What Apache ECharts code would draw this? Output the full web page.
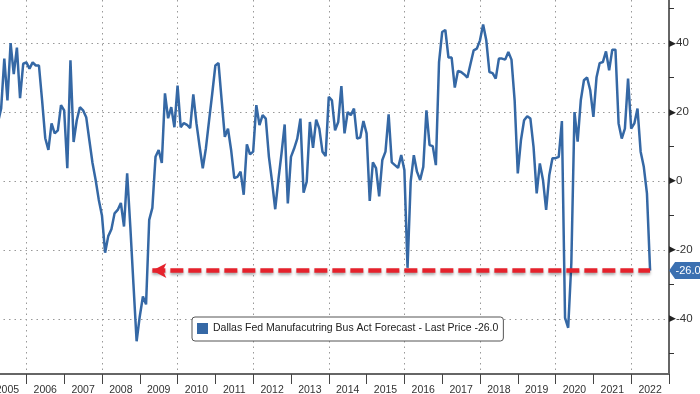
<!DOCTYPE html>
<html>
<head>
<meta charset="utf-8">
<script src="https://cdn.jsdelivr.net/npm/echarts@6/dist/echarts.min.js"></script>
<style>html,body{margin:0;padding:0;background:#fff}#c{width:700px;height:394px}</style>
</head>
<body>
<div id="c"></div>
<script>
// Monthly categories: Apr 2005 .. Jan 2023
const startYear = 2005, startMonth = 4, monthCount = 214;
const seriesName = 'Dallas Fed Manufacutring Bus Act Forecast - Last Price -26.0';
const lastPrice = -26.0;
const arrowStartIndex = 49;
const yMajorTicks = [-40, -20, 0, 20, 40];
const yMinorTicks = [-50, -30, -10, 10, 30, 50];

// Values (Apr 2005 .. Jul 2022)
const values = [
  17, 21, 35.5, 23.4, 40, 31, 38.7, 24, 34, 34.4, 32.6, 34.4,
  33.5, 33.5, 23.4, 12.4, 9, 16.7, 13.8, 14.7, 22, 20.5, 3.7, 35,
  11.3, 17.6, 21.4, 20.5, 18.5, 11.8, 5.2, 0.3, -5.5, -10, -20.8, -16,
  -14, -9.4, -8.4, -6.4, -13.2, 2.2, -13.2, -30, -46.5, -39.3, -33.5, -35.8,
  -11.3, -7.8, 7, 9, 5.2, 25.4, 18.2, 21.4, 15.6, 27.7, 15.6, 16.8,
  16.3, 15.3, 25.1, 16.7, 10, 3.7, 9.5, 17.5, 25.3, 33.5, 34.2, 23.4,
  12.8, 15.2, 9, 0.8, 1.2, 2.7, -4, 10.6, 7.7, 8.5, 22, 16.2,
  19.1, 18.1, 7, -0.2, -8.2, 0.3, 8, 16.4, -6.5, 7, 9.4, 12.3,
  18.1, -3.4, -0.2, 17.1, 9.6, 17.8, 15.2, 8.5, 7.2, 24.4, 23.4, 14.7,
  17.1, 27.5, 13.8, 20, 19.1, 21, 12.3, 12.6, 17.4, 13.8, -5.8, 5.4,
  3.7, -4.5, 6.1, 8.5, 19.3, 5.4, 4.6, 3.8, 7.5, 3.2, -25.2, -0.2,
  7.5, 2.7, 0.3, 4.1, 20.5, 10.4, 10.1, 4.6, 34.5, 43.2, 43.8, 35.8,
  35.8, 27.1, 31.9, 31.6, 30.9, 30, 34, 37.9, 38.4, 40.8, 45.4, 40.8,
  31.6, 31.3, 29.7, 35.5, 35.5, 35.2, 37.4, 35.2, 23.4, 2.2, 11.8, 17.6,
  18.8, 18.1, 9.9, -3.6, 5.1, 0.3, -8.4, 1.7, 6.6, 6.6, 7, 17.4,
  -39.7, -42.6, -23.8, 20, 11.4, 23.4, 29.2, 30, 26.3, 18.6, 30.1, 34.2,
  34.5, 37.6, 32.1, 38.1, 38.1, 16.7, 12.3, 15.2, 29.7, 15.2, 16.7, 21,
  8.5, 4.1, -3.6, -26
];

const months = [];
for (let k = 0; k < monthCount; k++) {
  const m0 = startMonth - 1 + k;
  const y = startYear + Math.floor(m0 / 12);
  const m = (m0 % 12) + 1;
  months.push(y + '-' + (m < 10 ? '0' + m : m));
}
const seriesData = months.map((_, i) => (i < values.length ? values[i] : null));
const lastIndex = values.length - 1;

const monthOf = (v) => parseInt(String(v).slice(5), 10);
const yearOf = (v) => parseInt(String(v).slice(0, 4), 10);
const isJan = (i) => monthOf(months[i]) === 1;
const isJul = (i) => monthOf(months[i]) === 7;
const isEvenJan = (i) => isJan(i) && yearOf(months[i]) % 2 === 0;

const blue = '#3568a5';
const font = 'Liberation Sans';
const gridDot = { color: '#999', type: [1.5, 4], width: 1 };

const chart = echarts.init(document.getElementById('c'), null, { renderer: 'canvas' });
chart.setOption({
  animation: false,
  backgroundColor: '#ffffff',
  grid: { left: -2, right: 31, top: 0, bottom: 20, containLabel: false, outerBoundsMode: 'none' },
  legend: {
    left: 192, top: 317,
    data: [seriesName],
    icon: 'rect', itemWidth: 11, itemHeight: 11, itemGap: 6,
    padding: [6, 5, 7, 5],
    backgroundColor: '#ffffff',
    borderColor: '#555', borderWidth: 1, borderRadius: 3,
    textStyle: { fontFamily: font, fontSize: 10.5, color: '#222' }
  },
  xAxis: [{
    type: 'category',
    data: months,
    boundaryGap: false,
    axisLine: { onZero: false, lineStyle: { color: '#666', width: 2 } },
    axisTick: {
      show: true, length: 10,
      interval: (i) => isJan(i),
      lineStyle: { color: '#444', width: 1 }
    },
    axisLabel: {
      interval: (i) => isJul(i),
      formatter: (v) => String(yearOf(v)),
      fontFamily: font, fontSize: 10.5, color: '#333', margin: 11
    },
    splitLine: { show: false }
  }, {
    type: 'category',
    data: months,
    boundaryGap: false,
    position: 'bottom',
    axisLine: { show: false, onZero: false },
    axisTick: { show: false, interval: (i) => isEvenJan(i) },
    axisLabel: { show: false, interval: (i) => isEvenJan(i) },
    splitLine: { show: true, interval: (i) => isEvenJan(i), lineStyle: gridDot }
  }],
  yAxis: [{
    type: 'value',
    position: 'right',
    min: -56, max: 52.5,
    axisLine: { show: true, onZero: false, lineStyle: { color: '#333', width: 1.5 } },
    axisTick: { show: false, customValues: yMajorTicks },
    axisLabel: {
      customValues: yMajorTicks,
      margin: 0,
      formatter: (v) => '{t|▶}' + v,
      fontFamily: font, fontSize: 11.5, color: '#333',
      rich: { t: { fontSize: 9, color: '#222' } }
    },
    splitLine: { show: true, lineStyle: gridDot }
  }, {
    type: 'value',
    position: 'right',
    min: -56, max: 52.5,
    axisLine: { show: false, onZero: false },
    axisTick: { show: true, length: 5, customValues: yMinorTicks, lineStyle: { color: '#333', width: 1 } },
    axisLabel: { show: false },
    splitLine: { show: false }
  }],
  series: [{
    name: seriesName,
    type: 'line',
    data: seriesData,
    xAxisIndex: 0,
    yAxisIndex: 0,
    showSymbol: false,
    symbol: 'none',
    connectNulls: false,
    clip: true,
    itemStyle: { color: blue },
    lineStyle: { color: blue, width: 2.5 },
    markLine: {
      silent: true,
      symbol: ['arrow', 'none'],
      symbolSize: [11, 14],
      label: { show: false },
      lineStyle: {
        color: '#e5222c', width: 4.5, type: [13, 5],
        shadowColor: 'rgba(0,0,0,0.35)', shadowBlur: 3, shadowOffsetY: 2
      },
      data: [[
        { coord: [months[arrowStartIndex], lastPrice] },
        { coord: [months[lastIndex], lastPrice] }
      ]]
    },
    markPoint: {
      silent: true,
      symbol: 'path://M0,8 L6,0 L40,0 L40,16 L6,16 Z',
      symbolSize: [40, 17],
      symbolOffset: [39, 0],
      itemStyle: { color: '#3b70b1' },
      label: {
        show: true, position: 'inside', offset: [-1, 0],
        formatter: () => lastPrice.toFixed(1),
        color: '#ffffff', fontFamily: font, fontSize: 11
      },
      data: [{ coord: [months[lastIndex], lastPrice] }]
    }
  }]
});
</script>
</body>
</html>
